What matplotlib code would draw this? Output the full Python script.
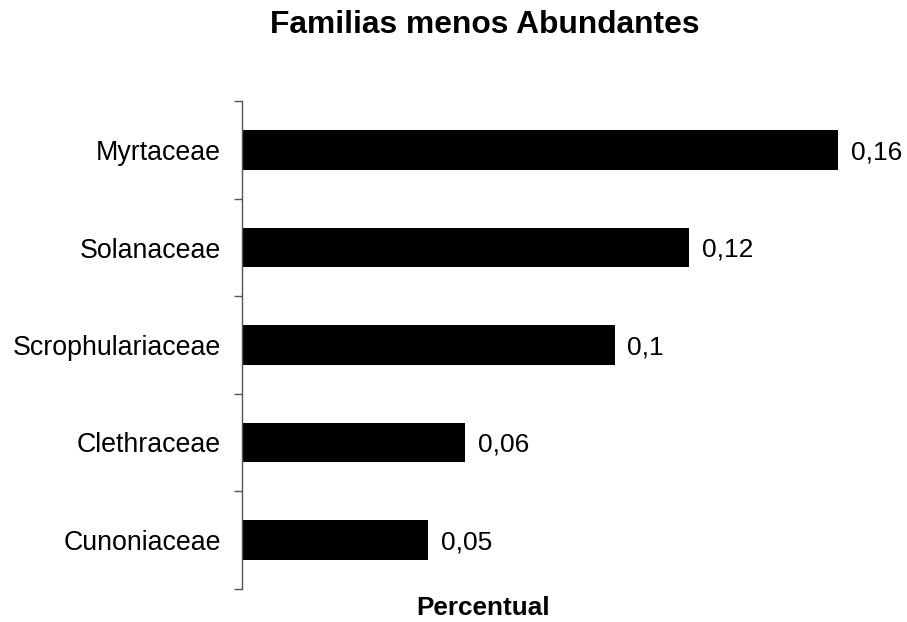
import matplotlib
matplotlib.use("Agg")
import matplotlib.pyplot as plt
import numpy as np

categories = ["Myrtaceae", "Solanaceae", "Scrophulariaceae", "Clethraceae", "Cunoniaceae"]
values = [0.16, 0.12, 0.1, 0.06, 0.05]
value_labels = ["0,16", "0,12", "0,1", "0,06", "0,05"]

plt.rcParams['font.family'] = ['Liberation Sans', 'DejaVu Sans']

W, H = 907, 622
fig = plt.figure(figsize=(W/100, H/100), dpi=100)
ax_left, ax_right = 242, 880
ax_top, ax_bot = 101.25, 588.75
ax = fig.add_axes([ax_left/W, (H-ax_bot)/H, (ax_right-ax_left)/W, (ax_bot-ax_top)/H])

px_per_unit = (838 - 242) / 0.16
ax.set_xlim(0, (ax_right-ax_left)/px_per_unit)
ax.set_ylim(len(categories)-0.5, -0.5)

y = np.arange(len(categories))
ax.barh(y, values, height=0.41, color='black')
for yi, v, lab in zip(y, values, value_labels):
    ax.annotate(lab, (v, yi), xytext=(13*0.72, -1.5), textcoords='offset points',
                va='center', ha='left', fontsize=19)

for s in ['top', 'right', 'bottom']:
    ax.spines[s].set_visible(False)
ax.spines['left'].set_color('#555555')
ax.spines['left'].set_linewidth(1)
ax.set_xticks([])
ax.set_yticks(y)
ax.set_yticklabels(categories, fontsize=19.3)
ax.tick_params(axis='y', which='major', length=0, pad=15.3)
ax.set_yticks(np.arange(-0.5, len(categories)), minor=True)
ax.tick_params(axis='y', which='minor', length=6, color='#555555', width=1, direction='out')

fig.text(485/W, 1-25/H, "Familias menos Abundantes", ha='center', va='center',
         fontsize=22.9, fontweight='bold')
fig.text(483/W, 1-608/H, "Percentual", ha='center', va='center',
         fontsize=18.8, fontweight='bold')

fig.savefig("out.png", dpi=100)
